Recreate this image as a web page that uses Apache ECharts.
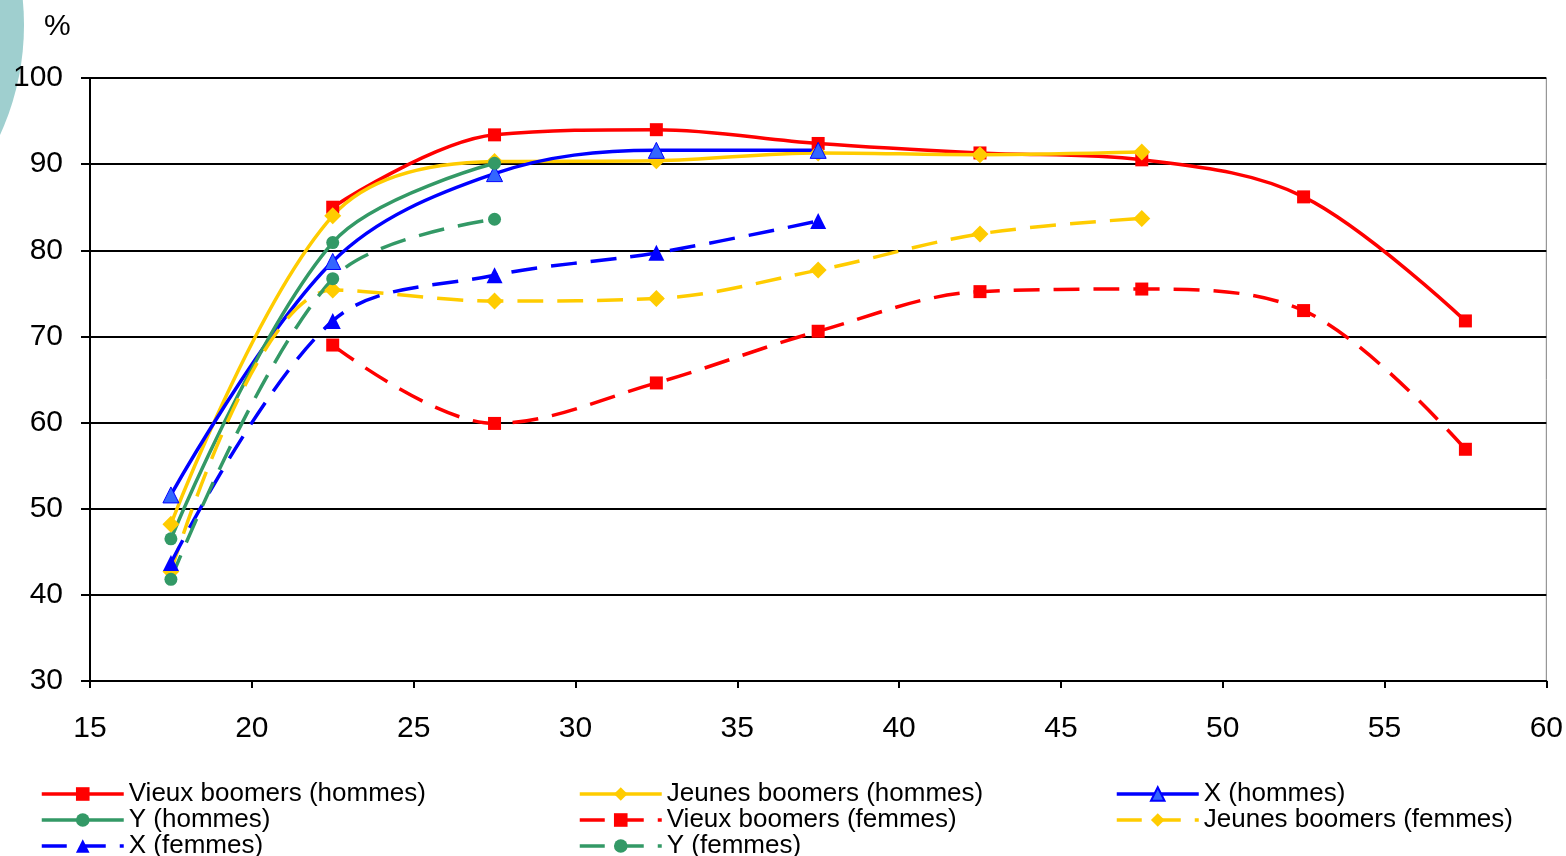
<!DOCTYPE html>
<html><head><meta charset="utf-8">
<script src="https://cdn.jsdelivr.net/npm/echarts@6/dist/echarts.min.js"></script>
<style>html,body{margin:0;padding:0;background:#fff}#c{width:1566px;height:856px}</style>
</head><body><div id="c"></div>
<script>
const ages = [17.5, 22.5, 27.5, 32.5, 37.5, 42.5, 47.5, 52.5, 57.5];
const vieuxHommes  = [null, 85.0, 93.4, 94.0, 92.4, 91.3, 90.5, 86.2, 71.8];
const jeunesHommes = [48.2, 84.0, 90.3, 90.4, 91.3, 91.1, 91.4, null, null];
const xHommes      = [51.6, 78.7, 88.9, 91.6, 91.6, null, null, null, null];
const yHommes      = [46.5, 80.9, 90.1, null, null, null, null, null, null];
const vieuxFemmes  = [null, 69.0, 59.9, 64.6, 70.6, 75.2, 75.5, 73.0, 56.9];
const jeunesFemmes = [42.7, 75.4, 74.1, 74.4, 77.7, 81.9, 83.7, null, null];
const xFemmes      = [43.7, 71.8, 77.1, 79.7, 83.4, null, null, null, null];
const yFemmes      = [41.8, 76.7, 83.6, null, null, null, null, null, null];
const xTicks = [15, 20, 25, 30, 35, 40, 45, 50, 55, 60];
const yTicks = [30, 40, 50, 60, 70, 80, 90, 100];

const names = {
  vh: 'Vieux boomers (hommes)', jh: 'Jeunes boomers (hommes)', xh: 'X (hommes)', yh: 'Y (hommes)',
  vf: 'Vieux boomers (femmes)', jf: 'Jeunes boomers (femmes)', xf: 'X (femmes)', yf: 'Y (femmes)'
};
const RED = '#FF0000', YEL = '#FFCC00', BLUE = '#0000FF', GREEN = '#339966';

function pairs(vals) {
  const out = [];
  vals.forEach((v, i) => { if (v !== null) out.push([ages[i], v]); });
  return out;
}
function mk(name, vals, color, symbol, size, dashed, fill) {
  return {
    name, type: 'line', data: pairs(vals), smooth: 0.35,
    symbol, symbolSize: size,
    lineStyle: { color, width: 3.5, type: dashed ? [26, 14] : 'solid' },
    itemStyle: { color: fill || color, borderColor: color, borderWidth: fill ? 1 : 0 },
    emphasis: { disabled: true }
  };
}
const series = [
  mk(names.vh, vieuxHommes, RED, 'rect', 13, false),
  mk(names.jh, jeunesHommes, YEL, 'diamond', 17, false),
  mk(names.xh, xHommes, BLUE, 'triangle', 16, false, '#3366FF'),
  mk(names.yh, yHommes, GREEN, 'circle', 13, false),
  mk(names.vf, vieuxFemmes, RED, 'rect', 13, true),
  mk(names.jf, jeunesFemmes, YEL, 'diamond', 17, true),
  mk(names.xf, xFemmes, BLUE, 'triangle', 16, true),
  mk(names.yf, yFemmes, GREEN, 'circle', 13, true)
];
const dashedNames = [names.vf, names.jf, names.xf, names.yf];
const FONT = 'Liberation Sans';
function legend(left, data) {
  return {
    orient: 'vertical', left, top: 781, height: 90, padding: 0, itemGap: 0,
    itemWidth: 82, itemHeight: 17,
    data: data.map(n => dashedNames.includes(n)
      ? { name: n, lineStyle: { width: 3.5, type: [25, 14] } }
      : { name: n, lineStyle: { width: 3.5 } }),
    textStyle: { fontFamily: FONT, fontSize: 26, color: '#000', lineHeight: 26 }
  };
}
const chart = echarts.init(document.getElementById('c'));
chart.setOption({
  animation: false,
  backgroundColor: '#fff',
  graphic: [
    { type: 'circle', shape: { cx: -240, cy: 25, r: 264 }, style: { fill: '#9FCFCF' }, z: -10 },
    { type: 'text', left: 44, top: 12, style: { text: '%', font: '30px "Liberation Sans"', fill: '#000' } }
  ],
  grid: { left: 90, right: 19, top: 78, bottom: 175, show: true, borderColor: '#808080', borderWidth: 1, backgroundColor: 'transparent' },
  xAxis: {
    type: 'value', min: xTicks[0], max: xTicks[xTicks.length - 1], interval: 5,
    axisLine: { show: true, lineStyle: { color: '#000', width: 2 } },
    axisTick: { show: true, inside: false, length: 7, lineStyle: { color: '#000', width: 2 } },
    axisLabel: { fontFamily: FONT, fontSize: 30, color: '#000', margin: 33 },
    splitLine: { show: false }
  },
  yAxis: {
    type: 'value', min: yTicks[0], max: yTicks[yTicks.length - 1], interval: 10,
    axisLine: { show: true, lineStyle: { color: '#000', width: 2 } },
    axisTick: { show: true, inside: false, length: 9, lineStyle: { color: '#000', width: 2 } },
    axisLabel: { fontFamily: FONT, fontSize: 30, color: '#000', margin: 27 },
    splitLine: { show: true, lineStyle: { color: '#000', width: 2 } }
  },
  legend: [
    legend(40, [names.vh, names.yh, names.xf]),
    legend(578, [names.jh, names.vf, names.yf]),
    legend(1115, [names.xh, names.jf])
  ],
  series
});
</script></body></html>
